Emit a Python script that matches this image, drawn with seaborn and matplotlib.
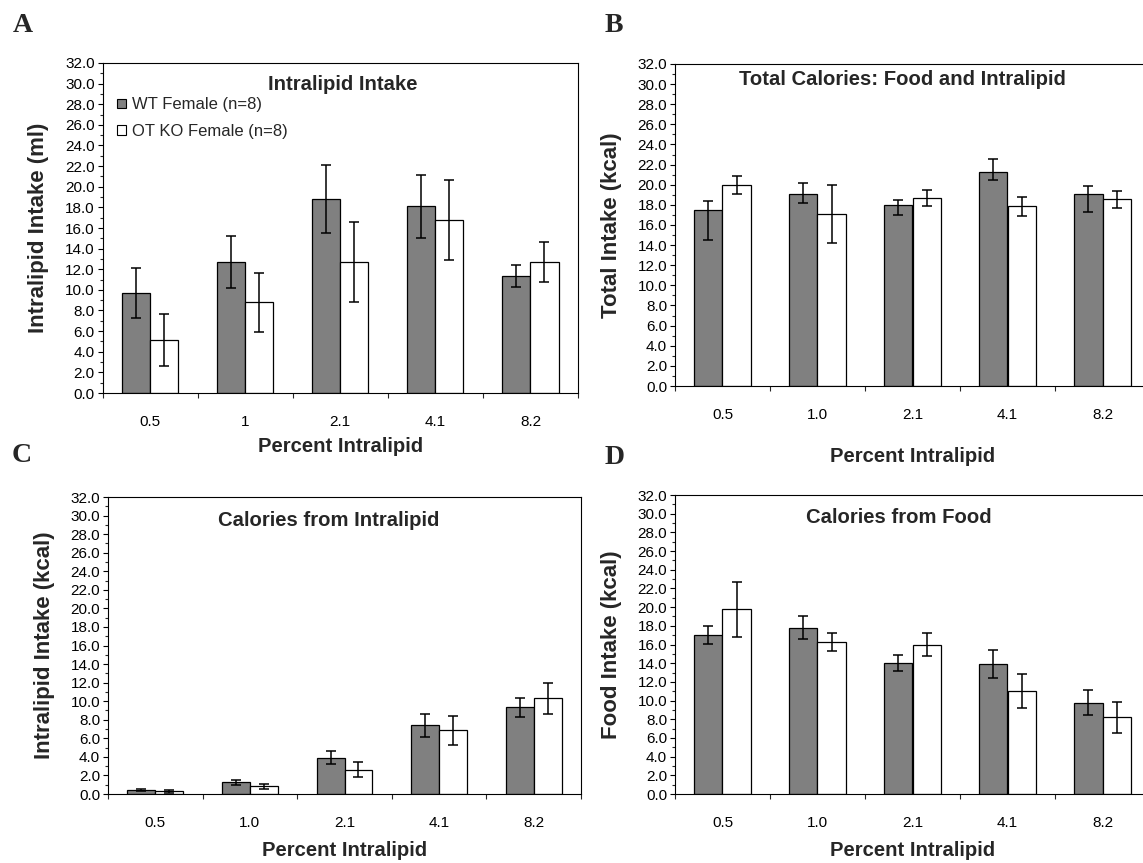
import numpy as np
import pandas as pd
import matplotlib
matplotlib.use("Agg")
import matplotlib.pyplot as plt
from matplotlib.patches import Patch
from matplotlib.ticker import MultipleLocator, FormatStrFormatter, FixedLocator
import seaborn as sns

# ---------------------------------------------------------------- data
conc_labels_a = ["0.5", "1", "2.1", "4.1", "8.2"]
conc_labels = ["0.5", "1.0", "2.1", "4.1", "8.2"]
groups = ["WT Female (n=8)", "OT KO Female (n=8)"]

# A: intralipid intake (ml), mean and SEM
intake_ml_wt = [9.7, 12.7, 18.8, 18.1, 11.35]
intake_ml_wt_sem = [2.45, 2.5, 3.3, 3.05, 1.1]
intake_ml_ko = [5.15, 8.8, 12.7, 16.75, 12.7]
intake_ml_ko_sem = [2.55, 2.85, 3.85, 3.9, 1.95]

# B: total calories (kcal); WT error bars are not symmetric
total_kcal_wt = [17.45, 19.05, 18.0, 21.3, 19.05]
total_kcal_wt_err_lo = [2.95, 0.85, 1.05, 0.85, 1.8]
total_kcal_wt_err_hi = [0.95, 1.1, 0.5, 1.25, 0.8]
total_kcal_ko = [20.0, 17.1, 18.65, 17.85, 18.55]
total_kcal_ko_sem = [0.9, 2.85, 0.8, 0.97, 0.87]

# C: calories from intralipid (kcal)
lipid_kcal_wt = [0.4, 1.25, 3.9, 7.4, 9.35]
lipid_kcal_wt_sem = [0.12, 0.3, 0.72, 1.25, 1.0]
lipid_kcal_ko = [0.27, 0.83, 2.63, 6.85, 10.3]
lipid_kcal_ko_sem = [0.18, 0.27, 0.85, 1.55, 1.7]

# D: calories from food (kcal)
food_kcal_wt = [17.0, 17.8, 14.05, 13.9, 9.75]
food_kcal_wt_sem = [0.97, 1.2, 0.84, 1.52, 1.33]
food_kcal_ko = [19.75, 16.25, 16.0, 11.0, 8.2]
food_kcal_ko_sem = [2.93, 0.97, 1.25, 1.81, 1.68]

# ---------------------------------------------------------------- style
sns.set_theme(style="white")
plt.rcParams["font.family"] = ["Liberation Sans", "DejaVu Sans"]
plt.rcParams["axes.linewidth"] = 0.8

WT_COLOR = "#808080"
KO_COLOR = "#ffffff"

W, H = 1143, 863
fig = plt.figure(figsize=(W / 100, H / 100), dpi=100)


def px_axes(left, top, right, bottom):
    return fig.add_axes([left / W, 1 - bottom / H, (right - left) / W, (bottom - top) / H])


def draw_panel(ax, cats, wt, ko, wt_err, ko_err, title, title_xy, ylabel,
               xlabel_y, ylabel_x, legend=False):
    df = pd.DataFrame({
        "conc": list(cats) * 2,
        "group": [groups[0]] * len(cats) + [groups[1]] * len(cats),
        "value": list(wt) + list(ko),
    })
    sns.barplot(data=df, x="conc", y="value", hue="group", order=cats,
                hue_order=groups, palette=[WT_COLOR, KO_COLOR], saturation=1,
                width=0.59, edgecolor="black", linewidth=0.9, errorbar=None,
                legend=False, ax=ax)

    for container, err in zip(ax.containers, [wt_err, ko_err]):
        xs = [b.get_x() + b.get_width() / 2 for b in container]
        ys = [b.get_height() for b in container]
        ax.errorbar(xs, ys, yerr=err, fmt="none", ecolor="black",
                    elinewidth=1.1, capsize=3.6, capthick=1.1, zorder=5)

    ax.set_xlim(-0.5, len(cats) - 0.5)
    ax.set_ylim(0, 32)
    ax.yaxis.set_major_locator(MultipleLocator(2))
    ax.yaxis.set_minor_locator(MultipleLocator(1))
    ax.yaxis.set_major_formatter(FormatStrFormatter("%.1f"))
    ax.xaxis.set_minor_locator(FixedLocator(np.arange(-0.5, len(cats), 1.0)))
    ax.tick_params(axis="y", which="major", direction="out", length=3.6,
                   width=0.8, pad=2, labelsize=11, colors="black", left=True)
    ax.tick_params(axis="y", which="minor", direction="out", length=2.2,
                   width=0.8, left=True)
    ax.tick_params(axis="x", which="major", length=0, pad=15.5, labelsize=11,
                   colors="black")
    ax.tick_params(axis="x", which="minor", direction="out", length=3.6,
                   width=0.8, bottom=True)
    for s in ax.spines.values():
        s.set_visible(True)
        s.set_color("black")
        s.set_linewidth(0.8)

    ax.set_xlabel("Percent Intralipid", fontsize=14.6, fontweight="bold", va="center")
    ax.xaxis.set_label_coords(0.5, xlabel_y)
    ax.set_ylabel(ylabel, fontsize=16, fontweight="bold", va="center")
    ax.yaxis.set_label_coords(ylabel_x, 0.5)
    ax.text(title_xy[0], title_xy[1], title, transform=ax.transAxes,
            ha="center", va="center", fontsize=14.6, fontweight="bold")

    if legend:
        handles = [Patch(facecolor=WT_COLOR, edgecolor="black", linewidth=0.8),
                   Patch(facecolor=KO_COLOR, edgecolor="black", linewidth=0.8)]
        ax.legend(handles, groups, loc="upper left", bbox_to_anchor=(0.031, 0.896),
                  frameon=False, fontsize=12, handlelength=0.52, handleheight=0.52,
                  handletextpad=0.35, labelspacing=0.70, borderpad=0,
                  borderaxespad=0)


ax_a = px_axes(102.5, 63, 578, 393)
ax_b = px_axes(675, 64, 1150, 386)
ax_c = px_axes(108, 497, 581, 794)
ax_d = px_axes(675, 495, 1150, 794)

draw_panel(ax_a, conc_labels_a, intake_ml_wt, intake_ml_ko,
           intake_ml_wt_sem, intake_ml_ko_sem,
           "Intralipid Intake", (0.506, 0.935), "Intralipid Intake (ml)",
           -0.163, -0.135, legend=True)
draw_panel(ax_b, conc_labels, total_kcal_wt, total_kcal_ko,
           [total_kcal_wt_err_lo, total_kcal_wt_err_hi], total_kcal_ko_sem,
           "Total Calories: Food and Intralipid", (0.478, 0.953), "Total Intake (kcal)",
           -0.220, -0.133)
draw_panel(ax_c, conc_labels, lipid_kcal_wt, lipid_kcal_ko,
           lipid_kcal_wt_sem, lipid_kcal_ko_sem,
           "Calories from Intralipid", (0.467, 0.922), "Intralipid Intake (kcal)",
           -0.190, -0.135)
draw_panel(ax_d, conc_labels, food_kcal_wt, food_kcal_ko,
           food_kcal_wt_sem, food_kcal_ko_sem,
           "Calories from Food", (0.472, 0.924), "Food Intake (kcal)",
           -0.188, -0.133)

# panel letters
for letter, x, y in [("A", 12.7, 31.5), ("B", 604.8, 31.5),
                     ("C", 11.6, 461.5), ("D", 604.8, 464)]:
    fig.text(x / W, 1 - y / H, letter, fontsize=20, fontweight="bold",
             family=["Liberation Serif", "DejaVu Serif"], ha="left", va="baseline")

fig.savefig("out.png", dpi=100, facecolor="white")
